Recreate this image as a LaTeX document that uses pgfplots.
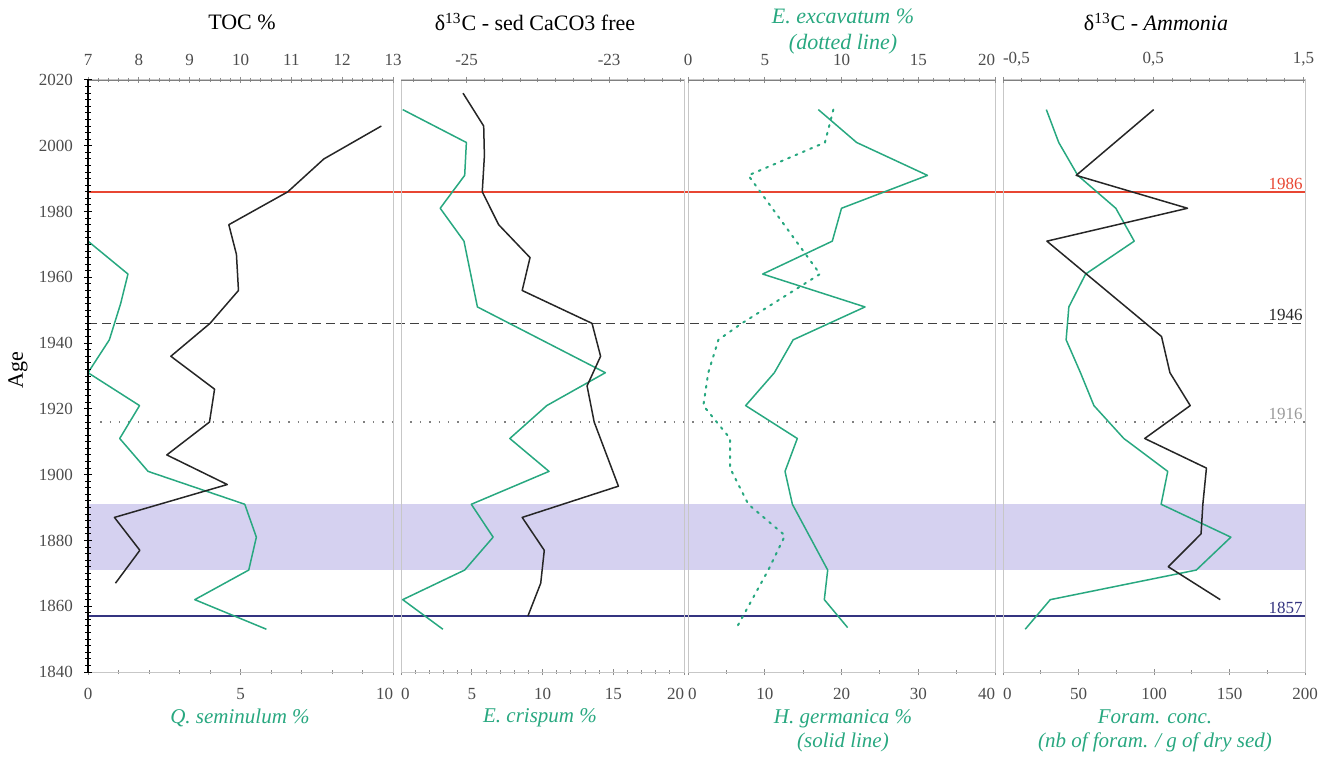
\documentclass[border=0pt]{standalone}
\usepackage{fontspec}
\setmainfont{Liberation Serif}
\usepackage{pgfplots}
\pgfplotsset{compat=1.18}
\definecolor{tgreen}{RGB}{40,168,128}
\definecolor{refred}{RGB}{232,70,50}
\definecolor{lnavy}{RGB}{52,52,128}
\definecolor{bandc}{RGB}{213,209,240}
\newcommand\rgt[1]{\makebox[0pt][r]{#1}}
\newcommand\lft[1]{\makebox[0pt][l]{#1}}
\pgfplotsset{
  base/.style={scale only axis, height=296pt, ymin=1840, ymax=2020, anchor=south west,
    /pgf/number format/assume math mode=true, /pgf/number format/1000 sep={},
    tick label style={font=\fontsize{8.5}{9}\selectfont, text=black!70},
    tick align=center, major tick length=3pt, minor tick length=2pt,
    every tick/.style={black!45, line width=0.4pt}, clip=false},
  bot/.style={base, axis line style={black!22, line width=0.5pt}, xtick pos=left, ytick=\empty,
    xticklabel style={yshift=-3pt}},
  top/.style={base, axis x line*=top, axis y line=none, axis line style={black!50, line width=0.4pt},
    ytick=\empty, xticklabel style={yshift=2pt}},
  dat/.style={line width=0.75pt, line join=round},
}
\begin{document}
\begin{tikzpicture}
\path[use as bounding box] (0,0) rectangle (665.5pt,378pt);
% overlay: band and reference lines
\begin{axis}[at={(44pt,42pt)}, anchor=south west, scale only axis, width=608.5pt, height=296pt,
  xmin=0, xmax=1, ymin=1840, ymax=2020, axis lines=none, clip=false]
\addplot[fill=bandc, draw=none] coordinates {(0,1871) (1,1871) (1,1891) (0,1891)} -- cycle;
\addplot[draw=refred, line width=0.7pt] coordinates {(0,1986) (1,1986)};
\addplot[draw=black!75, line width=0.8pt, dash pattern=on 4.5pt off 2.5pt] coordinates {(0,1946) (1,1946)};
\addplot[draw=black!50, line width=0.7pt, dash pattern=on 0.7pt off 4pt] coordinates {(0.01,1916) (1,1916)};
\addplot[draw=lnavy, line width=0.6pt] coordinates {(0,1857) (1,1857)};
\node[anchor=south east, inner sep=1pt, font=\fontsize{8.5}{9}\selectfont, text=refred] at (axis cs:1,1986) {1986};
\node[anchor=south east, inner sep=1pt, font=\fontsize{8.5}{9}\selectfont, text=black!85] at (axis cs:1,1946) {1946};
\node[anchor=south east, inner sep=1pt, font=\fontsize{8.5}{9}\selectfont, text=black!40] at (axis cs:1,1916) {1916};
\node[anchor=south east, inner sep=1pt, font=\fontsize{8.5}{9}\selectfont, text=lnavy] at (axis cs:1,1857) {1857};
\end{axis}
% Panel 1
\begin{axis}[bot, at={(44pt,42pt)}, width=152.5pt, xmin=0, xmax=10, xtick={0,5,10}, xticklabels={0,5,\rgt{10}}, minor xtick={0,1,...,10}]
\addplot[dat, tgreen] table {
0 2010
0 1971
1.31 1961
1.07 1952
0.70 1941
0 1931
1.69 1921
1.04 1911
1.97 1901
5.14 1891
5.52 1881
5.27 1871
3.50 1862
5.85 1853
};
\end{axis}
\begin{axis}[top, at={(44pt,42pt)}, width=152.5pt, xmin=7, xmax=13, xtick={7,8,...,13}, minor xtick={7,7.2,...,13}]
\addplot[dat, black!85] table {
12.77 2006
11.64 1996
10.93 1986
9.77 1976
9.92 1967
9.96 1956
9.40 1946
8.63 1936
9.49 1926
9.39 1916
8.55 1906
9.74 1897
7.52 1887
8.02 1877
7.54 1867
};
\end{axis}
% Panel 2
\begin{axis}[bot, at={(200.5pt,42pt)}, width=141.5pt, xmin=0, xmax=20, xtick={0,5,...,20}, xticklabels={\lft{0},5,10,15,\rgt{20}}, minor xtick={0,1,...,20}]
\addplot[dat, tgreen] table {
0.12 2011
4.62 2001
4.50 1991
2.77 1981
4.45 1971
5.40 1951
14.44 1931
10.30 1921
7.69 1911
10.46 1901
4.97 1891
6.51 1881
4.50 1871
0.12 1862
2.96 1853
};
\end{axis}
\begin{axis}[top, at={(200.5pt,42pt)}, width=141.5pt, xmin=-25.92, xmax=-21.95, xtick={-25,-23}, xticklabels={-25,-23}, minor xtick={-25.75,-25.5,...,-22}]
\addplot[dat, black!85] table {
-25.05 2016
-24.76 2006
-24.75 1997
-24.78 1986
-24.55 1976
-24.11 1966
-24.22 1956
-23.24 1946
-23.12 1936
-23.31 1927
-23.21 1916
-22.87 1896.5
-24.22 1887
-23.91 1877
-23.96 1867
-24.14 1857
};
\end{axis}
% Panel 3
\begin{axis}[bot, at={(344pt,42pt)}, width=153.5pt, xmin=0, xmax=40, xtick={0,10,...,40}, xticklabels={\lft{0},10,20,30,\rgt{40}}, minor xtick={0,5,...,40}]
\addplot[dat, tgreen] table {
16.98 2011
21.97 2001
31.2 1991
20.0 1981
18.8 1971
9.73 1961
23.06 1951
13.7 1941
11.25 1931
7.51 1921
14.24 1911
12.64 1901
13.6 1891
15.9 1881
18.2 1871
17.76 1862
20.8 1853.5
};
\end{axis}
\begin{axis}[top, at={(344pt,42pt)}, width=153.5pt, xmin=0, xmax=20, xtick={0,5,...,20}, xticklabels={0,5,10,15,\rgt{20}}, minor xtick={0,1,...,20}]
\addplot[tgreen, line width=1pt, dash pattern=on 1pt off 3pt, line cap=round] table {
9.47 2011
8.92 2001
3.93 1991
8.6 1961
3.5 1946
1.98 1941
1.32 1931
1.0 1921
2.74 1911
2.74 1902
3.93 1891
6.32 1881.5
5.23 1871
3.17 1853.5
};
\end{axis}
% Panel 4
\begin{axis}[bot, at={(501.5pt,42pt)}, width=151pt, xmin=0, xmax=200, xtick={0,50,...,200}, xticklabels={\lft{0},50,100,150,200}, minor xtick={0,25,...,200}]
\addplot[dat, tgreen] table {
28.7 2011
36.9 2001
49.5 1991
74.7 1981
86.9 1971
54.7 1961
43.6 1951
41.8 1941
51.3 1931
60.2 1921
80.0 1911
109.1 1901
104.7 1891
150.9 1881
128 1871
31.3 1862
14.7 1853
};
\end{axis}
\begin{axis}[top, at={(501.5pt,42pt)}, width=151pt, xmin=-0.5, xmax=1.51, xtick={-0.5,0.5,1.5}, xticklabels={{\lft{-0,5}},{0,5},{1,5}}, minor xtick={-0.5,-0.375,...,1.5}]
\addplot[dat, black!85] table {
0.503 2011
-0.013 1991
0.728 1981
-0.208 1971
0.555 1942
0.611 1931
0.746 1921
0.443 1911
0.854 1902
0.83 1891
0.818 1882
0.60 1872
0.946 1862
};
\end{axis}
% Age axis
\begin{axis}[base, at={(44pt,42pt)}, width=152.5pt, xmin=0, xmax=1, axis y line*=left, axis x line=none,
  ytick={1840,1860,...,2020}, minor ytick={1840,1842,...,2020},
  y axis line style={black, line width=0.6pt}, every tick/.style={black, line width=0.5pt},
  major tick length=4pt, minor tick length=3pt, yticklabel style={xshift=-2pt}]
\end{axis}
% titles
\node[font=\fontsize{11}{13}\selectfont, rotate=90] at (9pt,193pt) {Age};
\node[font=\fontsize{11}{13}\selectfont] at (121pt,367pt) {TOC \%};
\node[font=\fontsize{11}{13}\selectfont] at (267.5pt,367pt) {δ\textsuperscript{13}C - sed CaCO3 free};
\node[font=\fontsize{11}{13}\selectfont\itshape, text=tgreen, align=center] at (421.5pt,362pt) {E. excavatum \%\\(dotted line)};
\node[font=\fontsize{11}{13}\selectfont] at (578pt,367pt) {δ\textsuperscript{13}C - \textit{Ammonia}};
\node[font=\fontsize{10.5}{12.5}\selectfont\itshape, text=tgreen] at (120pt,19pt) {Q. seminulum \%};
\node[font=\fontsize{10.5}{12.5}\selectfont\itshape, text=tgreen] at (270pt,19pt) {E. crispum \%};
\node[font=\fontsize{10.5}{12}\selectfont\itshape, text=tgreen, align=center] at (421.5pt,12.5pt) {H. germanica \%\\(solid line)};
\node[font=\fontsize{10.5}{12}\selectfont\itshape, text=tgreen, align=center] at (577.5pt,12.5pt) {Foram. conc.\\(nb of foram. / g of dry sed)};
\end{tikzpicture}
\end{document}
